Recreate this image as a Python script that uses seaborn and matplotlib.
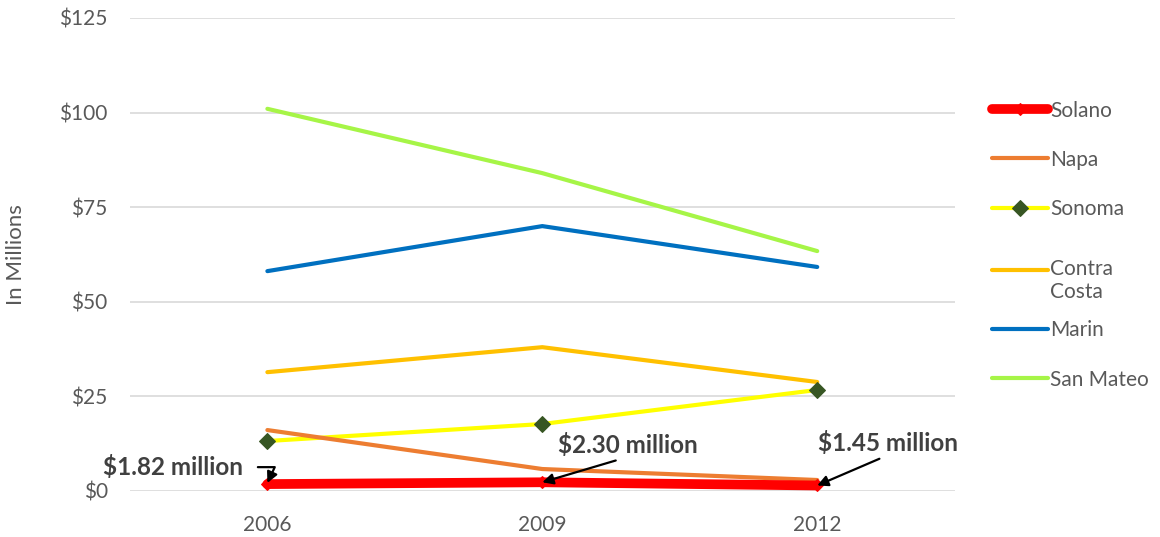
import numpy as np
import pandas as pd
import matplotlib
matplotlib.use("Agg")
import matplotlib.pyplot as plt
import matplotlib.transforms as mtransforms
import seaborn as sns

# Data (in millions of dollars)
years = ["2006", "2009", "2012"]
counties = ["Solano", "Napa", "Sonoma", "Contra\nCosta", "Marin", "San Mateo"]
solano = [1.82, 2.30, 1.45]
napa = [16.1, 5.8, 2.9]
sonoma = [13.2, 17.7, 26.7]
contra_costa = [31.4, 38.0, 28.8]
marin = [58.1, 70.0, 59.2]
san_mateo = [101.0, 84.0, 63.4]
annotations = ["$1.82 million", "$2.30 million", "$1.45 million"]
y_ticks = [0, 25, 50, 75, 100, 125]

colors = {
    "Solano": "#FF0000",
    "Napa": "#ED7D31",
    "Sonoma": "#FFFF00",
    "Contra\nCosta": "#FFC000",
    "Marin": "#0070C0",
    "San Mateo": "#A6F547",
}

df = pd.DataFrame({
    "pos": np.tile(np.arange(len(years)), len(counties)),
    "value": solano + napa + sonoma + contra_costa + marin + san_mateo,
    "county": np.repeat(counties, len(years)),
})

sns.set_style("white")
plt.rcParams["font.family"] = ["Lato", "DejaVu Sans"]
text_color = "#595959"

fig = plt.figure(figsize=(11.6, 5.37), dpi=100)
ax = fig.add_axes([0.112, 0.0857, 0.711, 0.8808])

# draw back to front so Solano sits on top
draw_order = ["San Mateo", "Marin", "Contra\nCosta", "Sonoma", "Napa", "Solano"]
for c in draw_order:
    sub = df[df["county"] == c]
    kw = dict(linewidth=3.0, solid_capstyle="round")
    if c == "Solano":
        kw = dict(linewidth=7.0, marker="D", markersize=6, markerfacecolor="#FF0000",
                  markeredgecolor="#FF0000", solid_capstyle="round")
    elif c == "Sonoma":
        kw = dict(linewidth=3.0, marker="D", markersize=8, markerfacecolor="#375623",
                  markeredgecolor="#375623", solid_capstyle="round")
    sns.lineplot(data=sub, x="pos", y="value", color=colors[c], ax=ax, label=c, **kw)

ax.set_xlim(-0.5, 2.5)
ax.set_ylim(0, 125)
ax.set_yticks(y_ticks)
ax.set_yticklabels([f"${v}" for v in y_ticks])
ax.set_xticks(range(len(years)))
ax.set_xticklabels(years)
ax.tick_params(axis="both", colors=text_color, labelsize=15, length=0)
ax.tick_params(axis="y", pad=16)
ax.tick_params(axis="x", pad=17)
ax.grid(axis="y", color="#D9D9D9", linewidth=1.2)
ax.set_axisbelow(True)
for s in ax.spines.values():
    s.set_visible(False)
ax.set_xlabel("")
ax.set_ylabel("In Millions", color=text_color, fontsize=16, labelpad=24)

# legend in original order
handles, labels = ax.get_legend_handles_labels()
lookup = dict(zip(labels, handles))
leg = ax.legend([lookup[c] for c in counties], counties, loc="center left",
                bbox_to_anchor=(1.022, 0.52), frameon=False, fontsize=15,
                handlelength=2.7, handletextpad=0.1, labelspacing=1.4,
                labelcolor=text_color)
# wrapped label: keep first line level with its line sample
cc_text = leg.get_texts()[3]
cc_text.set_transform(cc_text.get_transform() + mtransforms.Affine2D().translate(0, -11))

# callouts for Solano
ann_style = dict(fontsize=17.5, fontweight="bold", color="#404040")
ax.annotate(annotations[0], xy=(0.0, solano[0] + 0.3), xytext=(-0.087, 6.3),
            ha="right", va="center", **ann_style,
            arrowprops=dict(arrowstyle="-|>", color="black", lw=1.6,
                            connectionstyle="angle,angleA=0,angleB=65,rad=0",
                            shrinkA=8, shrinkB=0, mutation_scale=16,
                            relpos=(1.0, 0.5)),
            annotation_clip=False)
ax.annotate(annotations[1], xy=(1.0, solano[1]), xytext=(1.058, 12.2),
            ha="left", va="center", **ann_style,
            arrowprops=dict(arrowstyle="-|>", color="black", lw=1.6,
                            shrinkA=1, shrinkB=0, mutation_scale=16,
                            relpos=(0.5, 0.0)))
ax.annotate(annotations[2], xy=(2.0, solano[2]), xytext=(2.004, 12.7),
            ha="left", va="center", **ann_style,
            arrowprops=dict(arrowstyle="-|>", color="black", lw=1.6,
                            shrinkA=1, shrinkB=0, mutation_scale=16,
                            relpos=(0.5, 0.0)),
            annotation_clip=False)

fig.savefig("out.png", dpi=100)
